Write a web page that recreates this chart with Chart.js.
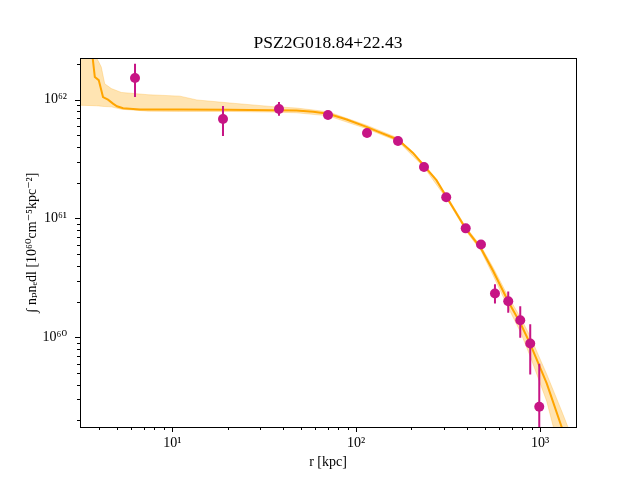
<!DOCTYPE html>
<html>
<head>
<meta charset="utf-8">
<script src="https://cdn.jsdelivr.net/npm/chart.js@4/dist/chart.umd.min.js"></script>
<style>
  html, body { margin: 0; padding: 0; background: #fff; }
  #wrap { width: 640px; height: 480px; }
</style>
</head>
<body>
<div id="wrap"><canvas id="myChart" width="640" height="480"></canvas></div>
<script>
// measured profile points
const radius = [6.27, 18.87, 38.05, 70.3, 114.6, 168.9, 233.9, 309, 394.5, 477.6, 569, 672, 781, 885, 991];
const profile = [1.52e62, 6.88e61, 8.35e61, 7.43e61, 5.24e61, 4.49e61, 2.71e61, 1.51e61, 8.26e60, 6.05e60, 2.34e60, 2.01e60, 1.39e60, 8.87e59, 2.61e59];
const errLow = [1.05e62, 4.94e61, 7.30e61, 7.20e61, 5.13e61, 4.24e61, 2.64e61, 1.46e61, 7.95e60, 5.80e60, 1.93e60, 1.61e60, 9.9e59, 4.87e59, 1.0e59];
const errHigh = [2.0e62, 8.85e61, 9.57e61, 7.70e61, 5.36e61, 4.75e61, 2.79e61, 1.56e61, 8.55e60, 6.30e60, 2.79e60, 2.43e60, 1.83e60, 1.29e60, 6.0e59];

// model fit line
const modelR = [3.6, 3.69, 3.79, 3.98, 4.20, 4.47, 4.76, 5.0, 5.4, 6.67, 11, 20, 35, 47.4, 58.4, 70.5, 88.8, 113.9, 134.6, 169.2, 204, 233.4, 273.5, 311, 394.5, 477.6, 557, 672, 785, 882, 1088, 1312, 1600];
const modelY = [3e62, 2.24e62, 1.55e62, 1.46e62, 1.05e62, 1.0e62, 9.26e61, 8.8e61, 8.47e61, 8.24e61, 8.24e61, 8.22e61, 8.15e61, 8.1e61, 7.9e61, 7.6e61, 6.8e61, 5.9e61, 5.3e61, 4.6e61, 3.56e61, 2.79e61, 2.10e61, 1.51e61, 8.2e60, 5.6e60, 3.6e60, 2.0e60, 1.3e60, 8.9e59, 4.1e59, 1.76e59, 7e58];

// uncertainty band
const bandR = [3.15, 3.69, 3.87, 3.98, 4.11, 4.29, 4.66, 5.28, 7.38, 11, 13.6, 20.6, 35.3, 47.4, 70.5, 113.9, 169.2, 233.4, 311, 394.5, 477.6, 557, 672, 785, 882, 1088, 1312, 1600];
const bandHigh = [4e62, 3e62, 2.24e62, 2.08e62, 1.88e62, 1.36e62, 1.24e62, 1.15e62, 1.10e62, 1.07e62, 9.94e61, 9.37e61, 8.73e61, 8.5e61, 7.9e61, 6.1e61, 4.75e61, 2.87e61, 1.56e61, 8.5e60, 5.85e60, 3.85e60, 2.2e60, 1.46e60, 1.03e60, 4.9e59, 2.4e59, 1.1e59];
const bandLow = [8.97e61, 8.9e61, 8.87e61, 8.85e61, 8.8e61, 8.75e61, 8.69e61, 8.3e61, 8.0e61, 7.95e61, 7.95e61, 7.95e61, 7.85e61, 7.75e61, 7.3e61, 5.7e61, 4.45e61, 2.71e61, 1.46e61, 7.9e60, 5.35e60, 3.3e60, 1.78e60, 1.1e60, 7.0e59, 2.9e59, 9.4e58, 3e58];

const xTicks = [10, 100, 1000];
const xTickLabels = ['10¹', '10²', '10³'];
const yTicks = [1e60, 1e61, 1e62];
const yTickLabels = ['10⁶⁰', '10⁶¹', '10⁶²'];

const serif = '"Liberation Serif", "DejaVu Serif", serif';
const orange = '#FFA500';
const violet = '#C71585';

const toXY = (xs, ys) => xs.map((x, i) => ({x: x, y: ys[i]}));

// error bars as segments separated by gaps
const errorBars = [];
radius.forEach((r, i) => {
    errorBars.push({x: r, y: errLow[i]});
    errorBars.push({x: r, y: errHigh[i]});
    errorBars.push({x: r, y: null});
});

// log ticks: majors from the arrays, minors 2..9 per decade
const logTicks = (majors, min, max) => {
    const list = [];
    const first = Math.floor(Math.log10(min));
    const last = Math.ceil(Math.log10(max));
    for (let e = first; e <= last; e++) {
        for (let m = 1; m <= 9; m++) {
            const v = m * Math.pow(10, e);
            if (v >= min && v <= max) {
                const idx = majors.findIndex(t => Math.abs(t - v) / t < 1e-9);
                list.push({value: idx >= 0 ? majors[idx] : v, major: idx >= 0});
            }
        }
    }
    return list;
};

const frameTicks = {
    id: 'frameTicks',
    afterDraw(chart) {
        const {ctx, chartArea: a, scales} = chart;
        ctx.save();
        ctx.strokeStyle = '#000';
        ctx.lineWidth = 1;
        ctx.beginPath();
        scales.x.ticks.forEach(t => {
            const px = Math.round(scales.x.getPixelForValue(t.value)) + 0.5;
            const len = t.major ? 5 : 3;
            ctx.moveTo(px, a.bottom);
            ctx.lineTo(px, a.bottom + len);
        });
        scales.y.ticks.forEach(t => {
            const py = Math.round(scales.y.getPixelForValue(t.value)) + 0.5;
            const len = t.major ? 5 : 3;
            ctx.moveTo(a.left, py);
            ctx.lineTo(a.left - len, py);
        });
        ctx.stroke();
        ctx.strokeRect(Math.round(a.left) + 0.5, Math.round(a.top) + 0.5,
            Math.round(a.right - a.left), Math.round(a.bottom - a.top));
        ctx.restore();
    }
};

const xMin = 3.148, xMax = 1570;
const yMin = 1.76e59, yMax = 2.24e62;

new Chart(document.getElementById('myChart'), {
    type: 'line',
    data: {
        datasets: [
            {
                label: 'data',
                data: toXY(radius, profile),
                showLine: false,
                pointRadius: 5,
                pointBackgroundColor: violet,
                pointBorderWidth: 0
            },
            {
                label: 'errors',
                data: errorBars,
                borderColor: violet,
                borderWidth: 2,
                pointRadius: 0,
                spanGaps: false
            },
            {
                label: 'model',
                data: toXY(modelR, modelY),
                borderColor: orange,
                borderWidth: 2,
                pointRadius: 0,
                tension: 0
            },
            {
                label: 'band low',
                data: toXY(bandR, bandLow),
                borderColor: 'rgba(255,165,0,0.25)',
                borderWidth: 1,
                pointRadius: 0,
                fill: false
            },
            {
                label: 'band high',
                data: toXY(bandR, bandHigh),
                borderColor: 'rgba(255,165,0,0.25)',
                borderWidth: 1,
                backgroundColor: 'rgba(255,165,0,0.3)',
                pointRadius: 0,
                fill: '-1'
            }
        ]
    },
    options: {
        responsive: false,
        animation: false,
        devicePixelRatio: 1,
        // left 16 + y axis 64 = 80; right spacer axis 64 -> title centred on the plot
        layout: {padding: {left: 16, right: 0, top: 0, bottom: 0}},
        plugins: {
            legend: {display: false},
            tooltip: {enabled: false},
            title: {
                display: true,
                text: 'PSZ2G018.84+22.43',
                color: '#000',
                font: {family: serif, size: 17.5, weight: 'normal', lineHeight: 1.2},
                padding: {top: 32.5, bottom: 4.5}
            }
        },
        scales: {
            x: {
                type: 'logarithmic',
                min: xMin,
                max: xMax,
                afterBuildTicks: (axis) => { axis.ticks = logTicks(xTicks, xMin, xMax); },
                afterFit: (axis) => { axis.height = 53; },
                grid: {display: false, drawTicks: false},
                border: {display: false},
                ticks: {
                    autoSkip: false,
                    maxRotation: 0,
                    padding: 8,
                    color: '#000',
                    font: {family: serif, size: 14},
                    callback: (v) => {
                        const i = xTicks.indexOf(v);
                        return i >= 0 ? xTickLabels[i] : '';
                    }
                },
                title: {
                    display: true,
                    text: 'r [kpc]',
                    color: '#000',
                    font: {family: serif, size: 14, lineHeight: 1.2},
                    padding: {top: 0, bottom: 9.6}
                }
            },
            y: {
                type: 'logarithmic',
                min: yMin,
                max: yMax,
                afterBuildTicks: (axis) => { axis.ticks = logTicks(yTicks, yMin, yMax); },
                afterFit: (axis) => { axis.width = 64; },
                grid: {display: false, drawTicks: false},
                border: {display: false},
                ticks: {
                    autoSkip: false,
                    padding: 13,
                    color: '#000',
                    font: {family: serif, size: 14},
                    callback: (v) => {
                        const i = yTicks.indexOf(v);
                        return i >= 0 ? yTickLabels[i] : '';
                    }
                },
                title: {
                    display: true,
                    text: '∫ nₚnₑdl [10⁶⁰cm⁻⁵kpc⁻²]',
                    color: '#000',
                    font: {family: serif, size: 14, lineHeight: 1.2},
                    padding: {top: 7.6, bottom: 0}
                }
            },
            spacer: {
                type: 'linear',
                position: 'right',
                display: true,
                afterFit: (axis) => { axis.width = 64; },
                grid: {display: false, drawTicks: false},
                border: {display: false},
                ticks: {display: false}
            }
        }
    },
    plugins: [frameTicks]
});
</script>
</body>
</html>
